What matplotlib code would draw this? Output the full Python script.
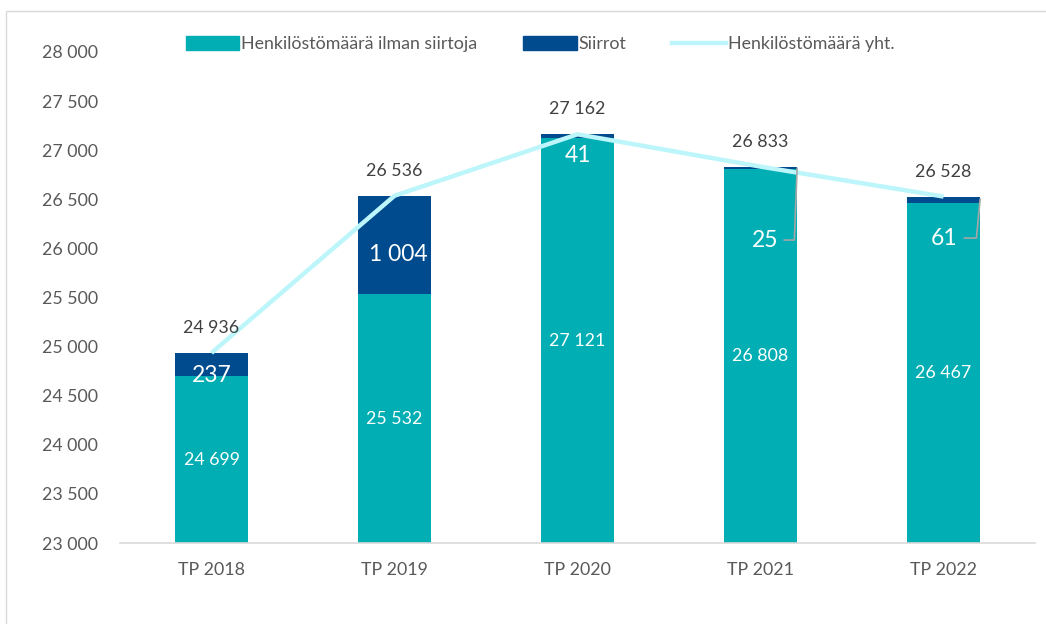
import numpy as np
import matplotlib
matplotlib.use("Agg")
import matplotlib.pyplot as plt
from matplotlib.patches import Patch, Rectangle
from matplotlib.lines import Line2D

plt.rcParams['font.family'] = ['Lato', 'DejaVu Sans']

years = ["TP 2018", "TP 2019", "TP 2020", "TP 2021", "TP 2022"]
ilman_siirtoja = [24699, 25532, 27121, 26808, 26467]
siirrot = [237, 1004, 41, 25, 61]
yhteensa = [24936, 26536, 27162, 26833, 26528]

teal = "#00AEB3"
navy = "#004B8D"
cyan = "#BDF6FA"
gray = "#595959"
base = 23000

fig = plt.figure(figsize=(10.46, 6.24), dpi=100)
ax = fig.add_axes([120 / 1046, 1 - 543 / 624, 915 / 1046, 491 / 624])

x = np.arange(len(years))
w = 0.4
ax.bar(x, np.array(ilman_siirtoja) - base, w, bottom=base, color=teal, zorder=2)
ax.bar(x, siirrot, w, bottom=ilman_siirtoja, color=navy, zorder=2)
ax.plot(x, yhteensa, color=cyan, lw=3.2, zorder=3, solid_capstyle="butt")

ax.set_xlim(-0.5, len(years) - 0.5)
ax.set_ylim(23000, 28000)
ax.set_yticks(np.arange(23000, 28001, 500))
ax.set_yticklabels([f"{v:,}".replace(",", " ") for v in range(23000, 28001, 500)])
ax.set_xticks(x)
ax.set_xticklabels(years)
ax.tick_params(axis="both", length=0, labelsize=12.8, colors=gray)
ax.tick_params(axis="x", pad=14)
ax.tick_params(axis="y", pad=16)
for s in ["top", "right", "left"]:
    ax.spines[s].set_visible(False)
ax.spines["bottom"].set_color("#D9D9D9")
ax.spines["bottom"].set_linewidth(1.2)


def fmt(v):
    return f"{v:,}".replace(",", " ")


# white labels in the teal bars
for i, v in enumerate(ilman_siirtoja):
    ax.text(i, (base + v) / 2, fmt(v), ha="center", va="center", color="white", fontsize=12.8, zorder=4)

# siirrot labels (offset from bar centre, y in data units)
siirrot_pos = [(0, 24710), (0.02, 25940), (0, 26950), (0.025, 26085), (0.005, 26105)]
for i, ((dx, py), v) in enumerate(zip(siirrot_pos, siirrot)):
    ax.text(i + dx, py, fmt(v), ha="center", va="center", color="white", fontsize=16.5, zorder=4)

# leader lines for small values
ax.plot([3.13, 3.185, 3.2], [26085, 26085, 26815], color="#A6A6A6", lw=1.2, zorder=4)
ax.plot([4.115, 4.18, 4.2], [26105, 26105, 26500], color="#A6A6A6", lw=1.2, zorder=4)

# totals
for i, v in enumerate(yhteensa):
    ax.annotate(fmt(v), (i, v), xytext=(0, 18), textcoords="offset points",
                ha="center", va="center", color="#404040", fontsize=12.8, zorder=4)

handles = [Patch(color=teal), Patch(color=navy), Line2D([], [], color=cyan, lw=3.2)]
labels = ["Henkilöstömäärä ilman siirtoja", "Siirrot", "Henkilöstömäärä yht."]
fig.legend(handles, labels, loc="center", bbox_to_anchor=(540 / 1046, 1 - 44 / 624), ncol=3,
           frameon=False, fontsize=12.8, labelcolor=gray, handlelength=3.0, handleheight=0.8,
           handletextpad=0.1, columnspacing=2.6)

fig.patches.append(Rectangle((6 / 1046, -0.05), 1.2, 1.05 - 11 / 624, transform=fig.transFigure,
                             fill=False, edgecolor="#D9D9D9", lw=1))

fig.savefig("out.png", dpi=100)
